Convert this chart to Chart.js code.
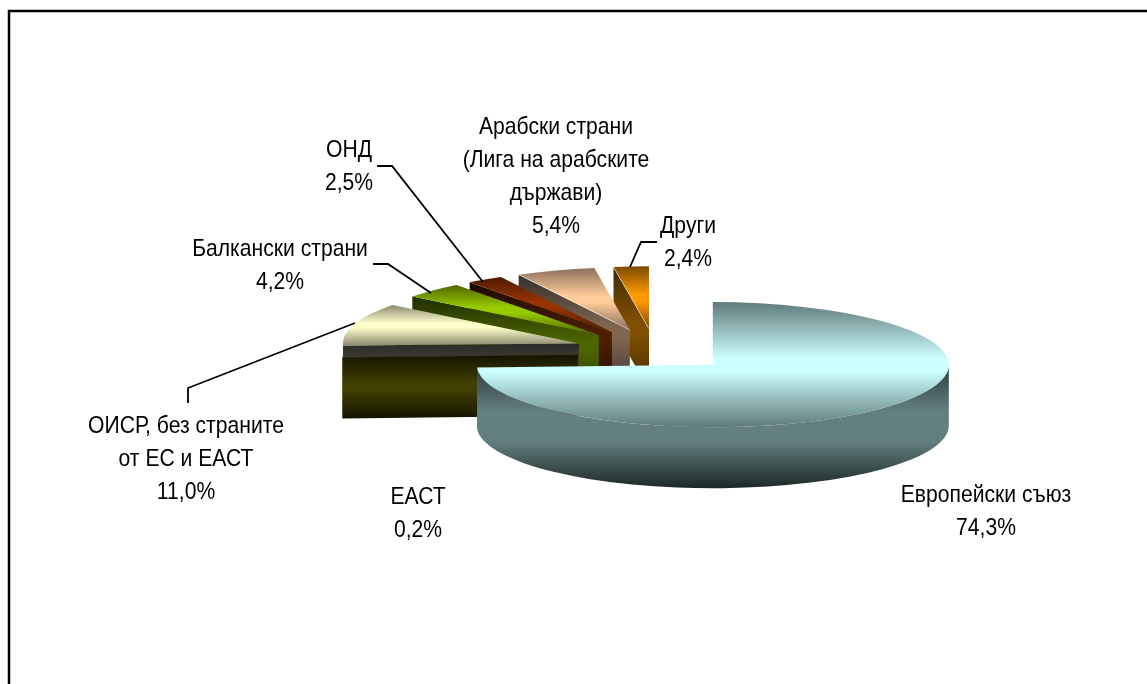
<!DOCTYPE html>
<html lang="bg">
<head>
<meta charset="utf-8">
<title>Износ по групи страни</title>
<script src="https://cdn.jsdelivr.net/npm/chart.js@4"></script>
<style>
    html, body { margin: 0; padding: 0; background: #fff; overflow: hidden; }
    #wrap { width: 1147px; height: 684px; position: relative; }
</style>
</head>
<body>
<div id="wrap"><canvas id="grafika" width="1147" height="684"></canvas></div>
<script>
// data
const categories = ['Европейски съюз', 'ЕАСТ', 'ОИСР, без страните от ЕС и ЕАСТ', 'Балкански страни', 'ОНД', 'Арабски страни (Лига на арабските държави)', 'Други'];
const shares = [74.3, 0.2, 11.0, 4.2, 2.5, 5.4, 2.4];

// colours: top face light / top face edge / side mid / side edge
const topLight = ['#ccffff', '#33331a', '#ffffcc', '#99cc00', '#993300', '#ffcc99', '#ff9900'];
const topEdge = ['#5f7a7a', '#33331a', '#8c8a70', '#4d6600', '#4d1a00', '#8c7060', '#7a4a00'];
const sideMid = ['#647f7f', '#404000', '#4a4a3e', '#4d6600', '#4d1f00', '#806650', '#805000'];
const sideEdge = ['#1c2828', '#141400', '#2b2b26', '#1e2e00', '#1a0a00', '#33302c', '#402800'];

// look of the 3D pie
const RADIUS = 236;
const TILT = 0.265;
const DEPTH = 61;
const EXPLODE = [80, 77, 80, 80, 80, 80, 80];
const NUDGE_Y = [0, 4, 0, 0, 0, 0, 0];
const CENTER_X = 655;
const CENTER_Y = 350;

// label text lines and where they go
const labelLines = [
    ['Европейски съюз', '74,3%'],
    ['ЕАСТ', '0,2%'],
    ['ОИСР, без страните', 'от ЕС и ЕАСТ', '11,0%'],
    ['Балкански страни', '4,2%'],
    ['ОНД', '2,5%'],
    ['Арабски страни', '(Лига на арабските', 'държави)', '5,4%'],
    ['Други', '2,4%']
];
const labelX = [986, 418, 186, 280, 349, 556, 688];
const labelY = [495, 497, 426, 249, 150, 127, 226];
const LINE_STEP = 33;
const TEXT_SQUEEZE = 0.88;

const leaderLines = [
    [[188, 403], [188, 388], [355, 323]],
    [[373, 264], [388, 264], [431, 293]],
    [[377, 166], [392, 166], [483, 282]],
    [[630, 267], [641, 242], [657, 242]]
];

// vertical extent of a slice in pie space, as fractions of the radius
function sliceExtent(i) {
    const total = shares.reduce((s, v) => s + v, 0);
    const before = shares.slice(0, i).reduce((s, v) => s + v, 0);
    const a0 = -Math.PI / 2 + before / total * Math.PI * 2;
    const a1 = a0 + shares[i] / total * Math.PI * 2;
    let lo = Math.min(0, Math.sin(a0), Math.sin(a1));
    let hi = Math.max(0, Math.sin(a0), Math.sin(a1));
    for (let a = -Math.PI * 1.5; a <= Math.PI * 2; a += Math.PI / 2) {
        if (a > a0 && a < a1) {
            lo = Math.min(lo, Math.sin(a));
            hi = Math.max(hi, Math.sin(a));
        }
    }
    return [lo, hi];
}

function topGradient(ctx) {
    const area = ctx.chart.chartArea;
    if (!area) return topLight[ctx.dataIndex];
    const cy = (area.top + area.bottom) / 2;
    const [lo, hi] = sliceExtent(ctx.dataIndex);
    const g = ctx.chart.ctx.createLinearGradient(0, cy + lo * RADIUS, 0, cy + hi * RADIUS);
    g.addColorStop(0, topEdge[ctx.dataIndex]);
    g.addColorStop(0.45, topLight[ctx.dataIndex]);
    g.addColorStop(0.55, topLight[ctx.dataIndex]);
    g.addColorStop(1, topEdge[ctx.dataIndex]);
    return g;
}

function sideGradient(c, i, y0, y1) {
    const g = c.createLinearGradient(0, y0, 0, y1);
    g.addColorStop(0, sideEdge[i]);
    g.addColorStop(0.45, sideMid[i]);
    g.addColorStop(0.55, sideMid[i]);
    g.addColorStop(1, sideEdge[i]);
    return g;
}

function drawRadialFace(c, arc, i, angle) {
    const d = DEPTH / TILT;
    const ex = arc.x + Math.cos(angle) * RADIUS;
    const ey = arc.y + Math.sin(angle) * RADIUS;
    c.beginPath();
    c.moveTo(arc.x, arc.y);
    c.lineTo(ex, ey);
    c.lineTo(ex, ey + d);
    c.lineTo(arc.x, arc.y + d);
    c.closePath();
    c.fillStyle = sideGradient(c, i, Math.min(arc.y, ey), Math.max(arc.y, ey) + d);
    c.fill();
}

function drawWall(c, arc, i) {
    // only the part of the rim that faces the viewer
    const a0 = Math.max(arc.startAngle, 0);
    const a1 = Math.min(arc.endAngle, Math.PI);
    if (a1 <= a0) return;
    const d = DEPTH / TILT;
    c.beginPath();
    c.arc(arc.x, arc.y, RADIUS, a0, a1);
    c.arc(arc.x, arc.y + d, RADIUS, a1, a0, true);
    c.closePath();
    const g = c.createLinearGradient(0, arc.y, 0, arc.y + RADIUS + d);
    g.addColorStop(0, '#2a3a3a');
    g.addColorStop(0.38, sideMid[i]);
    g.addColorStop(0.62, sideMid[i]);
    g.addColorStop(1, sideEdge[i]);
    c.fillStyle = g;
    c.fill();
}

const pie3d = {
    id: 'pie3d',
    beforeDatasetDraw(chart) {
        const c = chart.ctx;
        const arcs = chart.getDatasetMeta(0).data;
        const first = arcs[0];
        c.save();
        c.translate(CENTER_X, CENTER_Y);
        c.scale(1, TILT);
        c.translate(-first.x, -first.y);
        // back slices first, the big front slice last
        for (let i = arcs.length - 1; i >= 0; i--) {
            const arc = arcs[i];
            const mid = (arc.startAngle + arc.endAngle) / 2;
            c.save();
            c.translate(Math.cos(mid) * EXPLODE[i], Math.sin(mid) * EXPLODE[i] + NUDGE_Y[i] / TILT);
            if (Math.cos(arc.startAngle) < 0) drawRadialFace(c, arc, i, arc.startAngle);
            if (Math.cos(arc.endAngle) > 0) drawRadialFace(c, arc, i, arc.endAngle);
            drawWall(c, arc, i);
            arc.draw(c);
            if (i >= 5) {
                c.beginPath();
                c.moveTo(arc.x, arc.y);
                c.lineTo(arc.x + Math.cos(arc.startAngle) * RADIUS, arc.y + Math.sin(arc.startAngle) * RADIUS);
                c.strokeStyle = 'rgba(255,255,255,0.85)';
                c.lineWidth = 1;
                c.stroke();
            }
            c.restore();
        }
        c.restore();
        return false;
    },
    afterDraw(chart) {
        const c = chart.ctx;
        c.save();
        // frame: left and top only, the rest is cropped away
        c.strokeStyle = '#000';
        c.lineWidth = 2.5;
        c.beginPath();
        c.moveTo(9, 700);
        c.lineTo(9, 11);
        c.lineTo(1147, 11);
        c.stroke();
        // leader lines
        c.lineWidth = 1.8;
        leaderLines.forEach(pts => {
            c.beginPath();
            pts.forEach((p, n) => n ? c.lineTo(p[0], p[1]) : c.moveTo(p[0], p[1]));
            c.stroke();
        });
        c.fillStyle = '#000';
        c.font = '24px "Liberation Sans"';
        c.textAlign = 'center';
        c.textBaseline = 'middle';
        labelLines.forEach((lines, i) => {
            lines.forEach((txt, n) => {
                c.save();
                c.translate(labelX[i], labelY[i] + n * LINE_STEP);
                c.scale(TEXT_SQUEEZE, 1);
                c.fillText(txt, 0, 0);
                c.restore();
            });
        });
        c.restore();
    }
};

new Chart(document.getElementById('grafika'), {
    type: 'pie',
    data: {
        labels: categories,
        datasets: [{
            data: shares,
            radius: RADIUS,
            clip: false,
            borderWidth: 0,
            backgroundColor: topGradient
        }]
    },
    options: {
        responsive: false,
        animation: false,
        radius: RADIUS,
        plugins: { legend: { display: false }, tooltip: { enabled: false } }
    },
    plugins: [pie3d]
});
</script>
</body>
</html>
